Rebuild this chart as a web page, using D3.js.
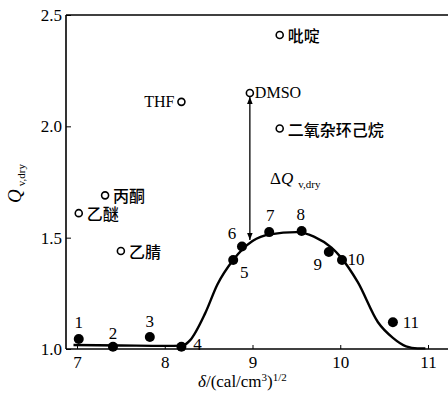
<!DOCTYPE html>
<html><head><meta charset="utf-8">
<script src="https://cdn.jsdelivr.net/npm/d3@7"></script>
<style>body{margin:0;background:#fff}svg{display:block}</style>
</head><body>
<svg id="c" width="448" height="396"></svg>
<script>
// Filled points (numbered samples)
const sampleIds = ["1","2","3","4","5","6","7","8","9","10","11"];
const sampleDelta = [7.02, 7.41, 7.83, 8.19, 8.78, 8.88, 9.19, 9.56, 9.87, 10.02, 10.6];
const sampleQ = [1.045, 1.01, 1.054, 1.01, 1.40, 1.46, 1.525, 1.53, 1.436, 1.40, 1.12];
// Open points (solvents)
const solventNames = ["THF", "DMSO", "吡啶", "二氧杂环己烷", "丙酮", "乙醚", "乙腈"];
const solventDelta = [8.19, 8.97, 9.31, 9.31, 7.32, 7.02, 7.5];
const solventQ = [2.11, 2.15, 2.41, 1.99, 1.69, 1.61, 1.44];
// Fitted curve
const curveDelta = [6.96, 7.5, 8.0, 8.2, 8.29, 8.46, 8.6, 8.78, 9.0, 9.2, 9.5, 9.7, 9.9, 10.0, 10.2, 10.43, 10.6, 10.75, 10.88, 10.97];
const curveQ = [1.018, 1.016, 1.014, 1.015, 1.04, 1.16, 1.29, 1.40, 1.485, 1.515, 1.525, 1.505, 1.455, 1.415, 1.3, 1.12, 1.05, 1.012, 1.003, 1.003];
// Ticks
const xTicks = [7, 8, 9, 10, 11];
const yTicks = [1.0, 1.5, 2.0, 2.5];
const yTickLabels = ["1.0", "1.5", "2.0", "2.5"];

const SERIF = "'Liberation Serif', 'Times New Roman', Times, 'DejaVu Serif', serif";
const CJK = "'Noto Sans CJK SC', sans-serif";

const svg = d3.select("#c");
const x = d3.scaleLinear().domain([7, 11]).range([77, 428]);
const y = d3.scaleLinear().domain([1.0, 2.5]).range([349, 15]);

// frame: left, top
svg.append("line").attr("x1",66).attr("x2",66).attr("y1",y(2.5)).attr("y2",y(1.0)).attr("stroke","#000").attr("stroke-width",1.6);
svg.append("line").attr("x1",66).attr("x2",448).attr("y1",y(2.5)).attr("y2",y(2.5)).attr("stroke","#000").attr("stroke-width",1.6);

const xAxis = d3.axisBottom(x).tickValues(xTicks).tickSize(-4).tickPadding(7).tickFormat(d3.format("d"));
const xa = svg.append("g").attr("transform",`translate(0,${y(1.0)})`).call(xAxis);
xa.attr("font-family",SERIF).attr("font-size",17);
xa.select(".domain").attr("d",`M66,0H448`).attr("stroke-width",1.4);
xa.selectAll("text").style("font-family",SERIF).style("font-size","17px").attr("fill","#000");

const yAxis = d3.axisLeft(y).tickValues(yTicks).tickSize(-5).tickPadding(4).tickFormat((d,i)=>yTickLabels[i]);
const ya = svg.append("g").attr("transform","translate(66,0)").call(yAxis);
ya.attr("font-family",SERIF).attr("font-size",17);
ya.select(".domain").remove();
ya.selectAll("text").style("font-family",SERIF).style("font-size","17px").attr("fill","#000");

// curve
const line = d3.line().x(d=>x(d[0])).y(d=>y(d[1])).curve(d3.curveMonotoneX);
svg.append("path").datum(curveDelta.map((d,i)=>[d,curveQ[i]]))
  .attr("d",line).attr("fill","none").attr("stroke","#000").attr("stroke-width",2.4);

// filled points
svg.selectAll("circle.s").data(sampleIds).enter().append("circle")
  .attr("cx",(d,i)=>x(sampleDelta[i])).attr("cy",(d,i)=>y(sampleQ[i])).attr("r",5).attr("fill","#000");
const lblOff = [[0,-15],[0,-12],[0,-14],[16,-1],[11,14],[-10,-11],[1,-15],[-1,-15],[-11,14],[14,1],[18,2]];
svg.selectAll("text.s").data(sampleIds).enter().append("text")
  .style("font-family",SERIF).style("font-size","17px")
  .attr("x",(d,i)=>x(sampleDelta[i])+lblOff[i][0]).attr("y",(d,i)=>y(sampleQ[i])+lblOff[i][1])
  .attr("text-anchor","middle").attr("dominant-baseline","middle")
  .text(d=>d);

// open points
svg.selectAll("circle.o").data(solventNames).enter().append("circle")
  .attr("cx",(d,i)=>x(solventDelta[i])).attr("cy",(d,i)=>y(solventQ[i])).attr("r",3.5)
  .attr("fill","#fff").attr("stroke","#000").attr("stroke-width",1.6);
svg.selectAll("text.o").data(solventNames).enter().append("text")
  .style("font-family",(d,i)=>i<2?SERIF:CJK)
  .style("font-size","16px").style("font-weight",(d,i)=>i<2?"normal":"500")
  .attr("x",(d,i)=> i===0 ? x(solventDelta[i])-7 : x(solventDelta[i])+(i===1?5:8))
  .attr("y",(d,i)=>y(solventQ[i]))
  .attr("text-anchor",(d,i)=>i===0?"end":"start").attr("dominant-baseline","central")
  .text(d=>d);

// arrow (ΔQ)
const defs = svg.append("defs");
defs.append("marker").attr("id","ah").attr("viewBox","0 0 10 10").attr("refX",10).attr("refY",5)
  .attr("markerWidth",7).attr("markerHeight",9).attr("markerUnits","userSpaceOnUse").attr("orient","auto-start-reverse")
  .append("path").attr("d","M0,1L10,5L0,9Z").attr("fill","#000");
const ax = x(solventDelta[1]);
svg.append("line").attr("x1",ax).attr("x2",ax).attr("y1",y(solventQ[1])+4).attr("y2",y(1.49))
  .attr("stroke","#000").attr("stroke-width",1.3)
  .attr("marker-start","url(#ah)").attr("marker-end","url(#ah)");
const dq = svg.append("text").style("font-family",SERIF).style("font-size","17px").attr("x",270).attr("y",184);
dq.append("tspan").text("Δ");
dq.append("tspan").style("font-style","italic").text("Q");
dq.append("tspan").style("font-size","11px").attr("dx",5).attr("dy",4).text("v,dry");

// axis titles
const xt = svg.append("text").style("font-family",SERIF).style("font-size","17px").attr("x",198).attr("y",387);
xt.append("tspan").style("font-style","italic").text("δ");
xt.append("tspan").text("/(cal/cm");
xt.append("tspan").style("font-size","11px").attr("dy",-6).text("3");
xt.append("tspan").attr("dy",6).text(")");
xt.append("tspan").style("font-size","11px").attr("dy",-6).text("1/2");

const yt = svg.append("text").style("font-family",SERIF).style("font-size","19px").attr("transform","translate(21,203) rotate(-90)");
yt.append("tspan").style("font-style","italic").text("Q");
yt.append("tspan").style("font-size","11px").attr("dx",3).attr("dy",4).text("v,dry");
</script>
</body></html>
